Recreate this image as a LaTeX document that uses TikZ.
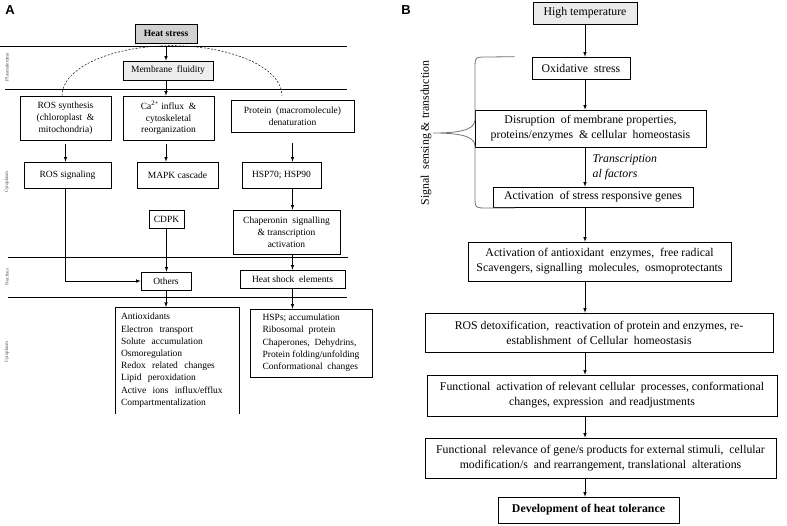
\documentclass[tikz,border=0pt]{standalone}
\usepackage{fontspec}
\setmainfont{Liberation Serif}
\setsansfont{Liberation Sans}
\usepackage{tikz}
\usetikzlibrary{arrows.meta}
\usetikzlibrary{shadows}

\tikzset{
    boxA/.style={draw, fill=white, line width=0.6pt, align=center, inner sep=1pt, font=\fontsize{9.5}{11.8}\selectfont},
    boxB/.style={draw, fill=white, line width=0.6pt, align=center, inner sep=1pt, font=\fontsize{11.8}{15}\selectfont,
        drop shadow={shadow xshift=1.2pt, shadow yshift=-1.2pt, fill=black!25}},
    side/.style={rotate=90, font=\fontsize{5}{6}\selectfont, text=black!70},
    flow/.style={->, line width=0.6pt}
}

\begin{document}
\begin{tikzpicture}[x=1pt,y=-1pt,>=latex]
    \useasboundingbox (0,0) rectangle (787,525);

    % panel A
    \node[font=\sffamily\bfseries\fontsize{13}{15}\selectfont] (labA) at (10,10) {A};
    \draw[line width=0.5pt] (0,46) -- (347,46);
    \draw[line width=0.5pt] (5,89) -- (347,89);
    \draw[line width=0.5pt] (8,257) -- (348,257);
    \draw[line width=0.5pt] (8,297) -- (347,297);
    \node[side] (plasma) at (7,67) {Plasmalemma};
    \node[side] (cyto1) at (7,182) {Cytoplasm};
    \node[side] (nucl) at (7,277) {Nucleus};
    \node[side] (cyto2) at (7,352) {Cytoplasm};

    \node[boxA, minimum width=91pt, minimum height=44pt] (ros) at (65.5,118) {ROS synthesis\\(chloroplast \ \&\\mitochondria)};
    \node[boxA, minimum width=91pt, minimum height=44pt] (ca) at (168.5,118) {Ca\textsuperscript{2+} influx \ \&\\cytoskeletal\\reorganization};
    \node[boxA, minimum width=123pt, minimum height=32pt] (prot) at (292.5,116) {Protein \ (macromolecule)\\denaturation};
    \draw[dashed, dash pattern=on 2pt off 1.6pt, line width=0.5pt] (ros.north) ++(-3.5,0)
        arc[start angle=180, end angle=0, x radius=110pt, y radius=50pt];
    \node[boxA, fill=black!18, minimum width=62pt, minimum height=19pt, font=\fontsize{9.5}{11.8}\selectfont\bfseries] (heat) at (166,33.5) {Heat stress};
    \node[boxA, fill=black!7, minimum width=90pt, minimum height=19pt] (fluid) at (168,70.5) {Membrane \ fluidity};

    \node[boxA, minimum width=87pt, minimum height=26pt] (rossig) at (67.5,175) {ROS signaling};
    \node[boxA, minimum width=81pt, minimum height=26pt] (mapk) at (177.5,175) {MAPK cascade};
    \node[boxA, minimum width=79pt, minimum height=26pt] (hsp) at (281.5,175) {HSP70; HSP90};
    \node[boxA, minimum width=35pt, minimum height=18pt] (cdpk) at (166.5,219) {CDPK};
    \node[boxA, minimum width=107pt, minimum height=44pt] (chap) at (286.5,232) {Chaperonin \ signalling\\\& transcription\\activation};
    \node[boxA, minimum width=50pt, minimum height=18pt] (others) at (166,281) {Others};
    \node[boxA, minimum width=105pt, minimum height=18pt] (hse) at (292.5,279) {Heat shock \ elements};
    \node[boxA, draw=none, fill=none, align=left, anchor=north, text width=113pt, minimum height=106pt, inner sep=5pt,
        font=\fontsize{9.5}{12.2}\selectfont] (anti) at (177.5,307)
        {Antioxidants\\Electron \ transport\\Solute \ accumulation\\Osmoregulation\\Redox \ related \ changes\\
         Lipid \ peroxidation\\Active \ ions \ influx/efflux\\Compartmentalization};
    \draw[line width=0.6pt] (anti.south west) -- (anti.north west) -- (anti.north east) -- (anti.south east);
    \node[boxA, align=left, minimum width=122pt, minimum height=68pt, inner sep=4pt, font=\fontsize{9.5}{12.3}\selectfont,
        drop shadow={shadow xshift=1pt, shadow yshift=-1pt, fill=black!25}] (hsps) at (311,343)
        {HSPs; accumulation\\Ribosomal \ protein\\Chaperones, \ Dehydrins,\\Protein folding/unfolding\\Conformational \ changes};

    \draw[flow, shorten <=3pt] (heat.south) -- (heat.south |- fluid.north);
    \draw[flow] (fluid.south -| heat.south) -- (heat.south |- ca.north);
    \draw[flow, shorten <=4pt] (ros.south) -- (ros.south |- rossig.north);
    \draw[flow, shorten <=4pt] (ca.south -| heat.south) -- (heat.south |- mapk.north);
    \draw[flow, shorten <=11pt] (prot.south) -- (prot.south |- hsp.north);
    \draw[flow] (hsp.south -| prot.south) -- (prot.south |- chap.north);
    \draw[flow] (chap.south -| prot.south) -- (prot.south |- hse.north);
    \draw[flow] (cdpk.south) -- (cdpk.south |- others.north);
    \draw[flow] (rossig.south -| ros.south) |- (others.west);
    \draw[flow] (others.south) -- (others.south |- anti.north);
    \draw[flow] (hse.south) -- (hse.south |- hsps.north);

    % panel B
    \node[font=\sffamily\bfseries\fontsize{13}{15}\selectfont] (labB) at (406,10) {B};
    \node[boxB, fill=black!8, minimum width=104pt, minimum height=22pt] (high) at (585,13) {High temperature};
    \node[boxB, minimum width=98pt, minimum height=22pt] (oxi) at (581,68) {Oxidative \ stress};
    \node[boxB, minimum width=231pt, minimum height=37pt] (disr) at (590.5,128.5) {Disruption \ of membrane properties,\\proteins/enzymes \ \& cellular \ homeostasis};
    \node[boxB, minimum width=200pt, minimum height=20pt] (genes) at (593,197) {Activation \ of stress responsive genes};
    \node[boxB, minimum width=263pt, minimum height=39pt] (antiox) at (599.5,261.5) {Activation of antioxidant \ enzymes, \ free radical\\Scavengers, signalling \ molecules, \ osmoprotectants};
    \node[boxB, minimum width=348pt, minimum height=39pt] (detox) at (599,332.5) {ROS detoxification, \ reactivation of protein and enzymes, re-\\establishment \ of Cellular \ homeostasis};
    \node[boxB, minimum width=350pt, minimum height=41pt] (func) at (602,395.5) {Functional \ activation of relevant cellular \ processes, conformational\\changes, expression \ and readjustments};
    \node[boxB, minimum width=351pt, minimum height=40pt] (relev) at (600.5,458) {Functional \ relevance of gene/s products for external stimuli, \ cellular\\modification/s \ and rearrangement, translational \ alterations};
    \node[boxB, minimum width=181pt, minimum height=26pt, font=\fontsize{11.8}{15}\selectfont\bfseries] (dev) at (588.5,510) {Development of heat tolerance};

    \draw[flow] (high.south) -- (high.south |- oxi.north);
    \draw[flow] (oxi.south -| high.south) -- (high.south |- disr.north);
    \draw[flow] (disr.south -| high.south) -- (high.south |- genes.north)
        node[pos=0.5, right=4pt, align=left, font=\fontsize{11.8}{15}\selectfont\itshape] (tf) {Transcription\\al factors};
    \draw[flow] (genes.south -| high.south) -- (high.south |- antiox.north);
    \draw[flow] (antiox.south -| high.south) -- (high.south |- detox.north);
    \draw[flow] (detox.south -| high.south) -- (high.south |- func.north);
    \draw[flow] (func.south -| high.south) -- (high.south |- relev.north);
    \draw[flow] (relev.south -| high.south) -- (high.south |- dev.north);

    \draw[black!55, line width=0.8pt] (oxi.north west) ++(-17,0) -- (487,57) .. controls (475,57) .. (475,69) -- (475,120)
        .. controls (475,131) and (455,133) .. (433,133) .. controls (455,133) and (475,135) .. (475,146) -- (475,196)
        .. controls (475,208) .. (487,208) -- (515,208);
    \node[rotate=90, font=\fontsize{11.8}{14}\selectfont] (sst) at (426,133) {Signal \ sensing \& transduction};
\end{tikzpicture}
\end{document}
